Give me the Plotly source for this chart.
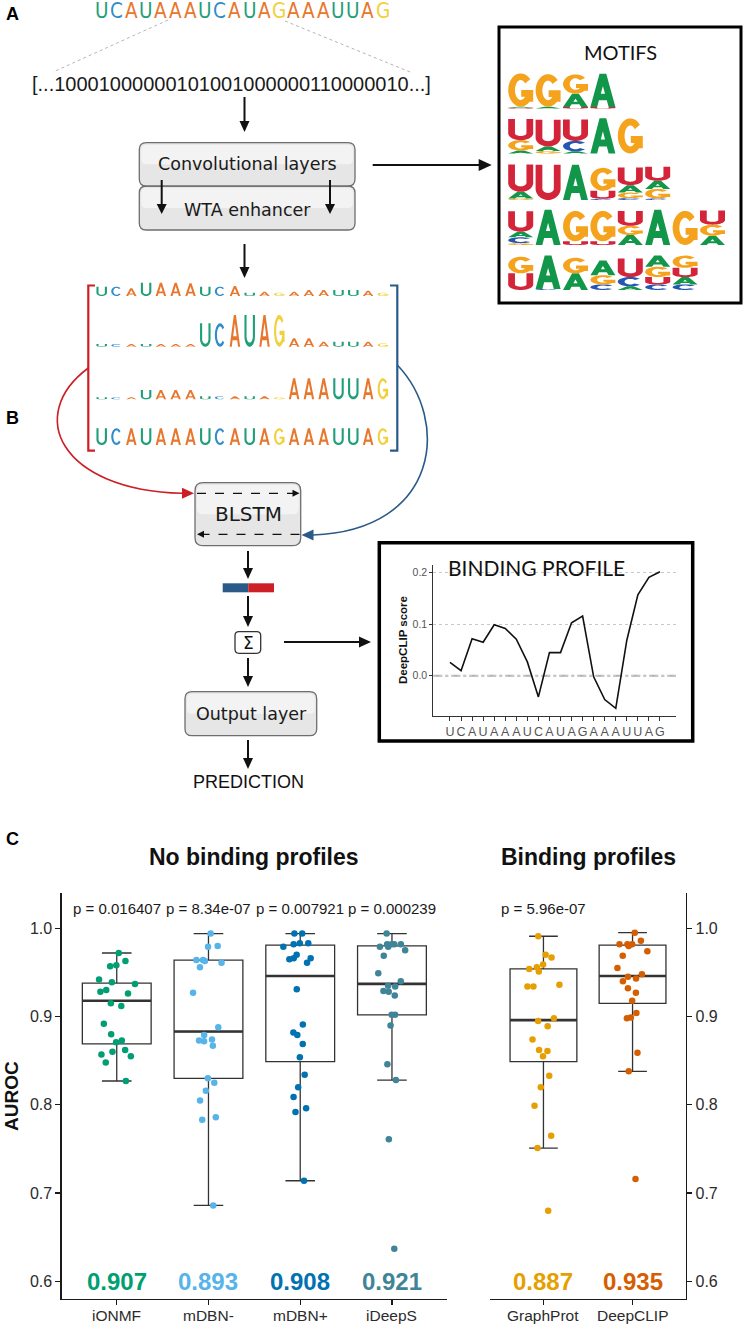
import math
import plotly.graph_objects as go

W, H = 744, 1325

# ---------------------------------------------------------------- data
SEQ = "UCAUAAAUCAUAGAAAUUAG"
BINARY = "[...10001000000101001000000110000010...]"

SEQ_COLORS = {"U": "#1f9e78", "C": "#2f8ccb", "A": "#e8772e", "G": "#f1d03c"}
MOTIF_COLORS = {"A": "#12974a", "C": "#2456b3", "G": "#f5a31c", "U": "#d3243a"}

# attention-weighted logo rows (letter heights relative to a full letter)
ROW1 = [0.56, 0.56, 0.46, 0.80, 0.80, 0.80, 0.76, 0.56, 0.56, 0.60,
        0.20, 0.26, 0.20, 0.26, 0.36, 0.36, 0.36, 0.36, 0.32, 0.20]
ROW2 = [0.16, 0.16, 0.16, 0.16, 0.16, 0.16, 0.16, 1.40, 1.40, 1.90,
        1.90, 1.90, 1.90, 0.50, 0.50, 0.30, 0.30, 0.30, 0.30, 0.20]
ROW3 = [0.12, 0.12, 0.12, 0.56, 0.56, 0.56, 0.56, 0.18, 0.18, 0.18,
        0.18, 0.18, 0.12, 1.26, 1.26, 1.26, 1.26, 1.26, 1.26, 1.26]
ROW4 = [1.0, 1.0, 1.0, 1.0, 1.0, 1.0, 1.0, 1.0, 1.0, 1.0,
        1.0, 1.0, 1.0, 1.0, 1.0, 1.0, 1.0, 1.0, 1.0, 1.0]

# motif logos: columns listed bottom -> top as (letter, fraction of full height)
MOTIF1 = [[("U", 0.02), ("A", 0.03), ("G", 0.90)],
          [("A", 0.05), ("G", 0.88)],
          [("U", 0.04), ("A", 0.36), ("G", 0.52)],
          [("U", 0.04), ("A", 0.90)]]
MOTIF2 = [[("A", 0.08), ("G", 0.28), ("U", 0.57)],
          [("G", 0.07), ("A", 0.12), ("U", 0.72)],
          [("A", 0.06), ("C", 0.28), ("U", 0.58)],
          [("A", 0.95)],
          [("G", 0.95)]]
MOTIF3 = [[("G", 0.04), ("A", 0.18), ("U", 0.74)],
          [("U", 0.95)],
          [("A", 0.95)],
          [("C", 0.03), ("U", 0.22), ("G", 0.62)],
          [("C", 0.05), ("G", 0.15), ("A", 0.20), ("U", 0.48)],
          [("C", 0.04), ("G", 0.26), ("A", 0.22), ("U", 0.38)]]
MOTIF4 = [[("G", 0.05), ("C", 0.16), ("A", 0.15), ("U", 0.55)],
          [("A", 0.95)],
          [("U", 0.10), ("G", 0.82)],
          [("U", 0.10), ("G", 0.82)],
          [("A", 0.27), ("G", 0.25), ("U", 0.40)],
          [("A", 0.95)],
          [("G", 0.92)],
          [("A", 0.25), ("G", 0.30), ("U", 0.38)]]
MOTIF5 = [[("U", 0.45), ("G", 0.45)],
          [("C", 0.03), ("A", 0.90)],
          [("A", 0.45), ("G", 0.42)],
          [("C", 0.15), ("G", 0.25), ("A", 0.40)],
          [("A", 0.10), ("C", 0.25), ("U", 0.50)],
          [("C", 0.15), ("U", 0.20), ("G", 0.28), ("A", 0.30)],
          [("C", 0.15), ("A", 0.20), ("U", 0.25), ("G", 0.33)]]
MOTIFS = [MOTIF1, MOTIF2, MOTIF3, MOTIF4, MOTIF5]

# binding profile
PROFILE_LABELS = list(SEQ)
PROFILE = [0.026, 0.010, 0.072, 0.065, 0.099, 0.092, 0.071, 0.027, -0.041, 0.045,
           0.045, 0.103, 0.116, -0.002, -0.046, -0.063, 0.069, 0.157, 0.191, 0.202]

# AUROC panel
CATS_L = ["iONMF", "mDBN-", "mDBN+", "iDeepS"]
CATS_R = ["GraphProt", "DeepCLIP"]
Q1_L = [0.869, 0.830, 0.849, 0.902]
MED_L = [0.918, 0.883, 0.946, 0.937]
Q3_L = [0.938, 0.964, 0.981, 0.980]
LO_L = [0.827, 0.686, 0.714, 0.828]
HI_L = [0.972, 0.994, 0.994, 0.994]
Q1_R = [0.849, 0.915]
MED_R = [0.896, 0.946]
Q3_R = [0.954, 0.981]
LO_R = [0.751, 0.838]
HI_R = [0.991, 0.995]

AUC_iONMF = [0.972, 0.963, 0.958, 0.957, 0.942, 0.939, 0.937, 0.930, 0.928, 0.926, 0.915,
             0.912, 0.892, 0.880, 0.873, 0.871, 0.862, 0.860, 0.857, 0.855, 0.848, 0.827]
AUC_mDBNm = [0.994, 0.980, 0.979, 0.964, 0.964, 0.963, 0.961, 0.956, 0.927, 0.888, 0.879,
             0.874, 0.873, 0.872, 0.867, 0.830, 0.825, 0.816, 0.805, 0.786, 0.783, 0.686]
AUC_mDBNp = [0.994, 0.994, 0.983, 0.983, 0.982, 0.979, 0.970, 0.966, 0.966, 0.965, 0.961, 0.931,
             0.891, 0.882, 0.879, 0.869, 0.854, 0.834, 0.820, 0.809, 0.796, 0.792, 0.714]
AUC_iDeepS = [0.994, 0.982, 0.982, 0.982, 0.982, 0.979, 0.979, 0.975, 0.969, 0.949, 0.940, 0.935,
              0.934, 0.929, 0.928, 0.924, 0.902, 0.902, 0.890, 0.846, 0.828, 0.761, 0.637]
AUC_GraphProt = [0.991, 0.970, 0.967, 0.959, 0.956, 0.954, 0.951, 0.936, 0.934, 0.934, 0.898, 0.895,
                 0.889, 0.874, 0.862, 0.861, 0.855, 0.833, 0.820, 0.799, 0.765, 0.751, 0.680]
AUC_DeepCLIP = [0.995, 0.986, 0.982, 0.982, 0.982, 0.980, 0.974, 0.969, 0.955, 0.948, 0.945,
                0.943, 0.940, 0.932, 0.927, 0.918, 0.904, 0.899, 0.898, 0.859, 0.838, 0.716]
POINTS_L = [AUC_iONMF, AUC_mDBNm, AUC_mDBNp, AUC_iDeepS]
POINTS_R = [AUC_GraphProt, AUC_DeepCLIP]
MEANS_L = ["0.907", "0.893", "0.908", "0.921"]
MEANS_R = ["0.887", "0.935"]
PVALS_L = ["p = 0.016407", "p = 8.34e-07", "p = 0.007921", "p = 0.000239"]
PVALS_R = ["p = 5.96e-07"]
COLORS_L = ["#009E73", "#56B4E9", "#0072B2", "#3f8497"]
COLORS_R = ["#E69F00", "#D55E00"]

# ---------------------------------------------------------------- helpers
shapes = []
annotations = []
ARIAL = "Liberation Sans, Arial, sans-serif"
DEJAVU = "DejaVu Sans, Verdana, sans-serif"
LATO = "Lato, Open Sans, sans-serif"


def P(x, y):
    return f"{x:.2f},{y:.2f}"


def add_path(d, fill=None, lc=None, lw=0, dash=None):
    s = dict(type="path", path=d, xref="x3", yref="y3", layer="above", fillrule="nonzero",
             line=dict(color=lc or "rgba(0,0,0,0)", width=lw))
    if fill:
        s["fillcolor"] = fill
    if dash:
        s["line"]["dash"] = dash
    shapes.append(s)


def add_line(x0, y0, x1, y1, color="#111", w=2.0, dash=None):
    ln = dict(color=color, width=w)
    if dash:
        ln["dash"] = dash
    shapes.append(dict(type="line", x0=x0, y0=y0, x1=x1, y1=y1, xref="x3", yref="y3",
                       layer="above", line=ln))


def text(x, y, s, size, color="#111", family=ARIAL, bold=False, xa="center", ya="middle", angle=0):
    annotations.append(dict(x=x, y=y, xref="x3", yref="y3", text=f"<b>{s}</b>" if bold else s,
                            showarrow=False, font=dict(size=size, color=color, family=family),
                            xanchor=xa, yanchor=ya, textangle=angle))


def head(x1, y1, ux, uy, color, hl, hw):
    hx, hy = x1 - ux * hl, y1 - uy * hl
    d = (f"M {P(x1, y1)} L {P(hx - uy * hw / 2, hy + ux * hw / 2)} "
         f"L {P(hx + uy * hw / 2, hy - ux * hw / 2)} Z")
    add_path(d, fill=color)


def arrow(x0, y0, x1, y1, color="#111", w=2.0, hl=11, hw=10, dash=None):
    L = math.hypot(x1 - x0, y1 - y0)
    ux, uy = (x1 - x0) / L, (y1 - y0) / L
    add_line(x0, y0, x1 - ux * hl * 0.8, y1 - uy * hl * 0.8, color, w, dash)
    head(x1, y1, ux, uy, color, hl, hw)


def rrect(x0, y0, x1, y1, r):
    return (f"M {x0 + r},{y0} L {x1 - r},{y0} Q {x1},{y0} {x1},{y0 + r} L {x1},{y1 - r} "
            f"Q {x1},{y1} {x1 - r},{y1} L {x0 + r},{y1} Q {x0},{y1} {x0},{y1 - r} "
            f"L {x0},{y0 + r} Q {x0},{y0} {x0 + r},{y0} Z")


def box(x0, y0, x1, y1, r=7):
    add_path(rrect(x0, y0, x1, y1, r), fill="#e6e6e6", lc="#6e6e6e", lw=1.3)
    add_path(rrect(x0 + 2, y0 + 2, x1 - 2, (y0 + y1) / 2, r - 2), fill="#f3f3f3")


# ---- letter glyphs for sequence logos (unit box, y up)
def _orient(pts):
    a = sum(x0 * y1 - x1 * y0 for (x0, y0), (x1, y1) in zip(pts, pts[1:] + pts[:1]))
    return pts if a > 0 else pts[::-1]


def _rect(x0, y0, x1, y1):
    return [(x0, y0), (x1, y0), (x1, y1), (x0, y1)]


def _arc(cx, cy, rx, ry, a0, a1, n=28):
    return [(cx + rx * math.cos(math.radians(a0 + (a1 - a0) * k / n)),
             cy + ry * math.sin(math.radians(a0 + (a1 - a0) * k / n))) for k in range(n + 1)]


def glyph_polys(letter, s, c):
    if letter == "A":
        return [[(0, 0), (s, 0), (0.5 + s / 2, 1), (0.5 - s / 2, 1)],
                [(1 - s, 0), (1, 0), (0.5 + s / 2, 1), (0.5 - s / 2, 1)],
                _rect(0.2, 0.2, 0.8, 0.2 + c)]
    if letter == "U":
        bowl = _arc(0.5, 0.33, 0.5, 0.33, 180, 360) + _arc(0.5, 0.33, 0.5 - s, 0.33 - c, 360, 180)
        return [_rect(0, 0.3, s, 1), _rect(1 - s, 0.3, 1, 1), bowl]
    if letter == "C":
        return [_arc(0.5, 0.5, 0.5, 0.5, 40, 320) + _arc(0.5, 0.5, 0.5 - s, 0.5 - c, 320, 40)]
    # G
    return [_arc(0.5, 0.5, 0.5, 0.5, 40, 360) + _arc(0.5, 0.5, 0.5 - s, 0.5 - c, 360, 40),
            _rect(0.52, 0.5 - c, 1.0, 0.5), _rect(1 - s, 0.15, 1.0, 0.5)]


def glyph(letter, cx, base, w, h, color, s, c):
    if h <= 0.3:
        return
    d = ""
    for poly in glyph_polys(letter, s, c):
        poly = _orient(poly)
        pts = [(cx - w / 2 + u * w, base - v * h) for u, v in poly]
        d += "M " + " L ".join(P(*p) for p in pts) + " Z "
    add_path(d, fill=color)


# ---------------------------------------------------------------- panel A
text(12, 14, "A", 18, bold=True, color="#000")
for i, ch in enumerate(SEQ):
    text(101.5 + 14.8 * i, 10.5, ch, 20.5, color=SEQ_COLORS[ch],
         family="Liberation Sans Narrow, DejaVu Sans Condensed, Liberation Sans")
add_line(168, 20, 53, 72, color="#b5b5b5", w=1, dash="dot")
add_line(285, 21, 410, 72, color="#b5b5b5", w=1, dash="dot")
text(231.7, 84, BINARY, 20, color="#1a1a1a")
arrow(244.5, 97, 244.5, 132)
box(139.3, 186, 355, 230)
box(139.3, 142.7, 355, 186)
text(247, 163.5, "Convolutional layers", 17.5, family=DEJAVU, color="#1a1a1a")
text(247, 209.5, "WTA enhancer", 17.5, family=DEJAVU, color="#1a1a1a")
arrow(161.7, 180, 161.7, 214, hl=10, hw=10)
arrow(330, 180, 330, 214, hl=10, hw=10)
arrow(372.7, 165, 491.7, 165, hl=13, hw=12)
arrow(244.5, 244, 244.5, 278)

# motifs box
shapes.append(dict(type="rect", x0=499, y0=27, x1=741, y1=303, xref="x3", yref="y3",
                   layer="above", line=dict(color="#000", width=3)))
text(620, 52, "MOTIFS", 20, family=LATO, color="#111")
MOTIF_BASES = [108.5, 153.5, 200, 245, 290]
for r, motif in enumerate(MOTIFS):
    for j, col in enumerate(motif):
        cx = 508 + 27.4 * j + 12.7
        y = MOTIF_BASES[r]
        for letter, frac in col:
            h = frac * 37
            glyph(letter, cx, y, 25, h, MOTIF_COLORS[letter], 0.27, 0.2)
            y -= h

# ---------------------------------------------------------------- panel B
text(12, 418, "B", 18, bold=True, color="#000")
RED, BLUE = "#cc1f26", "#2b5a89"
add_path("M 95,285.5 L 88.3,285.5 L 88.3,450.7 L 95,450.7", lc=RED, lw=2.2)
add_path("M 390,285.5 L 397.3,285.5 L 397.3,450.7 L 390,450.7", lc=BLUE, lw=2.2)
for row, base in zip([ROW1, ROW2, ROW3, ROW4], [296, 346.7, 399.3, 445]):
    for i, ch in enumerate(SEQ):
        glyph(ch, 101.7 + 14.8 * i, base, 10.5, row[i] * 16.7, SEQ_COLORS[ch], 0.2, 0.13)

# curved arrows into the BLSTM
add_path("M 88.3,368 C 25,415 60,490 182,493.3", lc=RED, lw=1.6)
head(194, 493.3, 1, 0, RED, 12, 11)
add_path("M 397.3,365 C 450,420 440,530 313,535", lc=BLUE, lw=1.6)
head(301.5, 535, -1, 0, BLUE, 12, 11)

box(195, 482.7, 300.7, 545.7, r=8)
text(248, 514, "BLSTM", 20, family=DEJAVU, color="#1a1a1a")
arrow(197, 493.3, 299.5, 493.3, w=1.2, hl=7, hw=7, dash="dash")
arrow(299.5, 534.3, 197, 534.3, w=1.2, hl=7, hw=7, dash="dash")
arrow(248, 551, 248, 579)
shapes.append(dict(type="rect", x0=222.7, y0=583.3, x1=248.3, y1=592.3, xref="x3", yref="y3",
                   layer="above", fillcolor=BLUE, line=dict(width=0)))
shapes.append(dict(type="rect", x0=248.3, y0=583.3, x1=274, y1=592.3, xref="x3", yref="y3",
                   layer="above", fillcolor=RED, line=dict(width=0)))
arrow(248, 596, 248, 627)
add_path(rrect(235, 631.7, 260.7, 653.3, 4), fill="#ffffff", lc="#333", lw=1.3)
text(248, 643, "Σ", 17, family=DEJAVU, color="#111")
arrow(284, 642, 371, 642, hl=12, hw=11)
arrow(248, 658, 248, 687)
box(185, 691.7, 316.7, 735.7)
text(251, 714, "Output layer", 17.5, family=DEJAVU, color="#1a1a1a")
arrow(248, 740, 248, 769)
text(248, 782, "PREDICTION", 18, color="#111")

# binding profile inset frame + labels
shapes.append(dict(type="rect", x0=379.3, y0=542.7, x1=692.7, y1=741, xref="x3", yref="y3",
                   layer="above", line=dict(color="#000", width=3.5)))
text(536, 567, "BINDING PROFILE", 21, family=LATO, color="#111")
text(403, 640, "DeepCLIP score", 11.5, bold=True, angle=-90, color="#111")
shapes.append(dict(type="line", xref="x4 domain", yref="y4", x0=0, x1=1, y0=0, y1=0,
                   layer="below", line=dict(color="#b0b0b0", width=2, dash="dashdot")))

# ---------------------------------------------------------------- panel C
text(12, 839, "C", 18, bold=True, color="#000")
text(254, 857, "No binding profiles", 23, bold=True, color="#111")
text(588, 857, "Binding profiles", 23, bold=True, color="#111")
text(11, 1096, "AUROC", 19, bold=True, angle=-90, color="#111")

fig = go.Figure()
fig.add_trace(go.Scatter(x=[], y=[], xaxis="x3", yaxis="y3", showlegend=False))

for cats, q1, med, q3, lo, hi, pts, cols, xa, ya in [
        (CATS_L, Q1_L, MED_L, Q3_L, LO_L, HI_L, POINTS_L, COLORS_L, "x", "y"),
        (CATS_R, Q1_R, MED_R, Q3_R, LO_R, HI_R, POINTS_R, COLORS_R, "x2", "y2")]:
    fig.add_trace(go.Box(x=cats, q1=q1, median=med, q3=q3, lowerfence=lo, upperfence=hi,
                         xaxis=xa, yaxis=ya, width=0.75, whiskerwidth=0.43, boxpoints=False,
                         fillcolor="white", line=dict(color="#333333", width=1.3),
                         showlegend=False, hoverinfo="skip"))
    fig.add_trace(go.Box(x=cats, q1=med, median=med, q3=med, lowerfence=med, upperfence=med,
                         xaxis=xa, yaxis=ya, width=0.75, whiskerwidth=0, boxpoints=False,
                         fillcolor="rgba(0,0,0,0)", line=dict(color="#333333", width=2.6),
                         showlegend=False, hoverinfo="skip"))
    for c, vals, colr in zip(cats, pts, cols):
        fig.add_trace(go.Box(x=[c] * len(vals), y=vals, xaxis=xa, yaxis=ya, width=0.75,
                             boxpoints="all", jitter=0.6, pointpos=0,
                             fillcolor="rgba(0,0,0,0)", line=dict(width=0, color="rgba(0,0,0,0)"),
                             marker=dict(color=colr, size=6.5, opacity=1),
                             showlegend=False))

for xa, ya, cats, means, cols in [("x", "y", CATS_L, MEANS_L, COLORS_L),
                                  ("x2", "y2", CATS_R, MEANS_R, COLORS_R)]:
    for c, m, colr in zip(cats, means, cols):
        annotations.append(dict(x=c, y=0.6, xref=xa, yref=ya, text=f"<b>{m}</b>", showarrow=False,
                                font=dict(size=24, color=colr, family=ARIAL), yanchor="middle"))
        # category label under the axis
        annotations.append(dict(x=c, y=1 - 1315 / H, xref=xa, yref="paper", text=c, showarrow=False,
                                font=dict(size=15.5, color="#2b2b2b", family=ARIAL),
                                yanchor="middle"))
for xa, ya, cats, pv in [("x", "y", CATS_L, PVALS_L), ("x2", "y2", CATS_R, PVALS_R)]:
    for c, p in zip(cats, pv):
        annotations.append(dict(x=c, y=1.022, xref=xa, yref=ya, text=p, showarrow=False,
                                font=dict(size=15, color="#1a1a1a", family=ARIAL), yanchor="middle"))

# binding profile line
fig.add_trace(go.Scatter(x=list(range(len(PROFILE))), y=PROFILE, xaxis="x4", yaxis="y4",
                         mode="lines", line=dict(color="#111", width=1.6), showlegend=False))

axc = dict(showline=True, linecolor="#1a1a1a", linewidth=1.3, ticks="outside", ticklen=5,
           tickwidth=1.2, tickcolor="#1a1a1a", showgrid=False, zeroline=False, fixedrange=True,
           tickfont=dict(family=ARIAL, size=16, color="#2b2b2b"))
ydom = [1 - 1299 / H, 1 - 893 / H]
yticks = [0.6, 0.7, 0.8, 0.9, 1.0]
ylabels = ["0.6", "0.7", "0.8", "0.9", "1.0"]

fig.update_layout(
    width=W, height=H, margin=dict(l=0, r=0, t=0, b=0),
    paper_bgcolor="white", plot_bgcolor="rgba(0,0,0,0)", showlegend=False,
    boxmode="overlay",
    xaxis=dict(axc, domain=[61.7 / W, 447 / W], anchor="y", type="category", showticklabels=False,
               categoryorder="array", categoryarray=CATS_L, range=[-0.6, 3.6]),
    yaxis=dict(axc, domain=ydom, anchor="x", range=[0.58, 1.04], tickvals=yticks, ticktext=ylabels),
    xaxis2=dict(axc, domain=[490 / W, 686 / W], anchor="y2", type="category", showticklabels=False,
                categoryorder="array", categoryarray=CATS_R, range=[-0.6, 1.6]),
    yaxis2=dict(axc, domain=ydom, anchor="x2", side="right", range=[0.58, 1.04],
                tickvals=yticks, ticktext=ylabels),
    xaxis3=dict(domain=[0, 1], range=[0, W], visible=False, fixedrange=True, anchor="y3"),
    yaxis3=dict(domain=[0, 1], range=[H, 0], visible=False, fixedrange=True, anchor="x3"),
    xaxis4=dict(domain=[433.3 / W, 676 / W], anchor="y4", range=[-1.51, 20.45],
                tickvals=list(range(len(PROFILE_LABELS))), ticktext=PROFILE_LABELS, tickangle=0,
                showline=True, linecolor="#333", linewidth=1, ticks="outside", ticklen=4,
                tickcolor="#333", showgrid=False, zeroline=False, fixedrange=True,
                tickfont=dict(family=ARIAL, size=12.5, color="#555")),
    yaxis4=dict(domain=[1 - 716 / H, 1 - 565 / H], anchor="x4", range=[-0.078, 0.215],
                tickvals=[0.0, 0.1, 0.2], ticktext=["0.0", "0.1", "0.2"],
                showline=True, linecolor="#333", linewidth=1, ticks="outside", ticklen=3,
                tickcolor="#333", showgrid=True, gridcolor="#c8c8c8", griddash="dot",
                gridwidth=1, zeroline=False, fixedrange=True,
                tickfont=dict(family=ARIAL, size=10.5, color="#555")),
    shapes=shapes, annotations=annotations,
)

fig.write_html(
    "out.html",
    config={"displayModeBar": False, "staticPlot": True},
    post_script="document.body.style.margin='0px';document.body.style.padding='0px';"
                "document.documentElement.style.overflow='hidden';",
)
